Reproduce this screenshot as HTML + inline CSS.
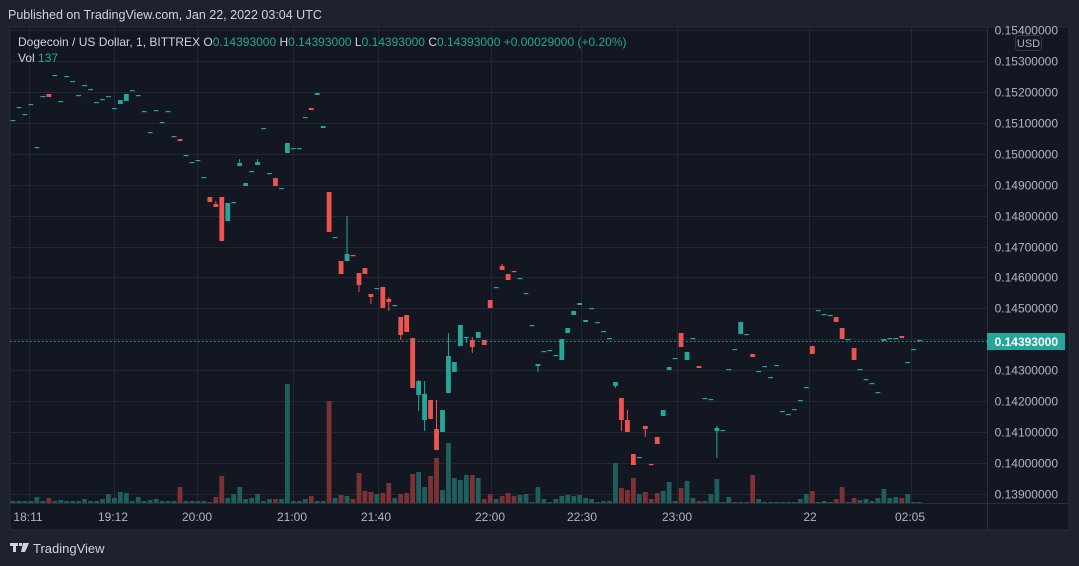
<!DOCTYPE html>
<html><head><meta charset="utf-8"><style>
html,body{margin:0;padding:0;background:#1e222d;width:1079px;height:566px;overflow:hidden}
body{font-family:"Liberation Sans",sans-serif}
</style></head><body>
<svg id="s" width="1079" height="566" xmlns="http://www.w3.org/2000/svg" style="position:absolute;left:0;top:0">
<rect x="0" y="0" width="1079" height="566" fill="#1e222d"/>
<rect x="10" y="27" width="1059" height="503" fill="#131722" stroke="#2a2e39" stroke-width="1"/>
<g id="grid" stroke="#232733" stroke-width="1"></g>
<line x1="987.5" y1="27" x2="987.5" y2="530" stroke="#2a2e39"/>
<line x1="10" y1="503.5" x2="1069" y2="503.5" stroke="#2a2e39"/>
<g id="vol"></g>
<g id="cd"></g>
<line x1="10" y1="341.5" x2="987" y2="341.5" stroke="#26a69a" stroke-width="1" stroke-dasharray="1.5,2.5"/>
<g id="pl" fill="#b2b5be" font-size="12" text-anchor="end"></g>
<rect x="987" y="333" width="78" height="17" fill="#26a69a"/>
<text x="1058" y="346" fill="#ffffff" font-size="12" text-anchor="end" font-weight="bold">0.14393000</text>
<rect x="1015.5" y="35.5" width="26" height="15" rx="3" fill="#131722" stroke="#363a45"/>
<text x="1028.5" y="47" fill="#b2b5be" font-size="11" text-anchor="middle">USD</text>
<g fill="#b2b5be" font-size="12" text-anchor="middle" id="tl"></g>
<text x="8" y="19" fill="#d1d4dc" font-size="12.5">Published on TradingView.com, Jan 22, 2022 03:04 UTC</text>
<text x="18" y="46" font-size="12" fill="#d1d4dc">Dogecoin / US Dollar, 1, BITTREX  O<tspan fill="#26a69a">0.14393000</tspan>  H<tspan fill="#26a69a">0.14393000</tspan>  L<tspan fill="#26a69a">0.14393000</tspan>  C<tspan fill="#26a69a">0.14393000</tspan>  <tspan fill="#26a69a">+0.00029000 (+0.20%)</tspan></text>
<text x="18" y="62" font-size="12" fill="#d1d4dc">Vol  <tspan fill="#26a69a">137</tspan></text>
<g fill="#d1d4dc"><rect x="10" y="543" width="8" height="3"/><rect x="13" y="543" width="3" height="9"/><rect x="19" y="543" width="3" height="3"/><path d="M23 543h6l-4 9h-4z"/></g>
<text x="33" y="553" fill="#d1d4dc" font-size="13">TradingView</text>
</svg>
<script>
var NS="http://www.w3.org/2000/svg";
function el(p,t,a,txt){var e=document.createElementNS(NS,t);for(var k in a)e.setAttribute(k,a[k]);if(txt)e.textContent=txt;document.getElementById(p).appendChild(e);}
for(var k=0;k<=15;k++){var y=Math.round(30+k*30.93)+0.5;el("grid","line",{x1:10,x2:987,y1:y,y2:y});
 el("pl","text",{x:1058,y:y+4},(0.154-k*0.001).toFixed(8));}
[29,114,197,293,378,491,581,677,809,911].forEach(function(x){el("grid","line",{x1:x+.5,x2:x+.5,y1:27,y2:503});});
var tl=[[28,"18:11"],[113,"19:12"],[197,"20:00"],[292,"21:00"],[376,"21:40"],[490,"22:00"],[582,"22:30"],[677,"23:00"],[810,"22"],[910,"02:05"]];
tl.forEach(function(t){el("tl","text",{x:t[0],y:521},t[1]);});
// candles: i, top, bottom, color, wickTop, wickBot
var D=[[0,120],[1,107],[2,114],[3,104],[4,147],[5,96],[6,94,97,'r'],[7,75],[8,101],[9,76],[10,81],[11,95],[12,85],[13,89],[14,102],[15,99],[16,96],[17,108],[18,100,104,'t'],[19,94,101,'t'],[20,90],[21,95],[22,111],[23,132],[24,110],[25,122],[26,111],[27,136],[28,139,141,'r'],[29,155],[30,162],[31,160],[32,177],
[33,197,202,'r'],[34,204,207,'r',201],[35,197,241,'r'],[36,203,221,'t'],[37,202],[38,163,166,'t',159],[39,183,186,'t'],[40,171],[41,162,165,'t',159],[42,128],[43,173],[44,178,186,'r'],[45,188],[46,143,153,'t'],[47,148],[48,148],[49,117],[50,108,110,'r'],[51,93,95,'t'],[52,126,128,'t'],[53,192,232,'r'],[54,237],[55,261,274,'r'],[56,254,261,'t',216],[57,255,256,'r'],[58,273,285,'r',273,292],[59,268,274,'r'],[60,294,297,'r',294,304],[61,288],
[62,287,308,'r'],[63,299,302,'r',297,311],[64,305],[65,317,335,'r',317,340],[66,315,332,'r'],[67,338,388,'r'],[68,381,395,'t',380,411],[69,394,420,'t',381,431],[70,400,419,'r'],[71,429,450,'r',400],[72,410,432,'t'],[73,356,393,'t',333],[74,362,372,'t'],[75,325,346,'t'],[76,337,338,'t',337,343],[77,340,347,'r',337,353],[78,332,338,'t'],[79,340,345,'r'],[80,300,308,'r'],[81,287],[82,266,270,'r',264],[83,274,280,'r'],[84,271,272,'r'],[85,278],[86,293],[87,325],[88,364,366,'t',364,372],[89,351],[90,350],[91,355],[92,339,360,'t'],[93,328,333,'t'],[94,311,315,'t'],[95,303,305,'t'],[96,320,322,'t'],[97,308],[98,322],[99,331],[100,338],[101,382,386,'t',382,388],[102,398,420,'r',398,431],[103,420,432,'r',410],[104,454,465,'r'],[105,457],[106,426,429,'r',426,437],[107,464,465,'r'],[108,437,444,'r'],[109,410,416,'t'],[110,367,370,'t'],[111,358],[112,333,347,'r'],[113,352,360,'t'],[114,338],[115,366,368,'r'],[116,398],[117,399],[118,428,431,'t',426,458],[119,430],[120,369],[121,349],[122,322,334,'t'],[123,334],[124,354,357,'r'],[125,371],[126,366],[127,377],[128,365],[129,411],[130,414],[131,409],[132,400],[133,387],[134,346,354,'r'],[135,310],[136,314],[137,315],[138,317,322,'r'],[139,328,339,'r'],[140,339],[141,348,360,'r'],[142,369],[143,379],[144,383],[145,392],[146,339,341,'t'],[147,338],[148,338],[149,336,338,'r'],[150,362],[151,349],[152,340]];
var V=[501,501,501,501,497,501,498,501,500,501,501,501,499,501,501,499,494,498,492,493,501,497,501,500,499,501,501,501,487,501,501,501,501,502,497,476,498,494,487,499,498,494,501,499,499,499,384,501,501,499,496,501,501,401,498,495,496,499,473,491,492,494,
493,483,498,494,493,474,472,487,476,458,490,443,478,480,475,475,478,499,494,499,496,493,496,495,494,502,487,499,502,499,496,495,496,495,498,499,502,501,501,463,488,490,478,494,492,499,493,491,482,501,488,481,498,501,501,494,479,502,497,502,502,502,475,499,502,502,502,502,502,502,499,494,491,502,501,502,499,487,502,498,500,499,501,498,489,498,497,498,494,502,502];
var col={};
D.forEach(function(d){var c=d[3]||'t';col[d[0]]=c;var x=13+d[0]*5.965;var f=c=='r'?'#ef5350':'#26a69a';
 var t=d[1],b=d.length>2?d[2]:d[1]+1.2;if(b-t<1.2)b=t+1.2;
 if(d.length>4){var wt=d[4],wb=d.length>5?d[5]:b;el("cd","rect",{x:x-0.5,y:wt,width:1,height:Math.max(wb,b)-wt,fill:f});}
 el("cd","rect",{x:x-2.4,y:t,width:4.8,height:b-t,fill:f});});
V.forEach(function(v,i){var x=13+i*5.965;var f=col[i]=='r'?'#7c3235':'#1d5f5b';el("vol","rect",{x:x-2.4,y:v,width:4.8,height:503-v,fill:f});});
</script>
</body></html>
